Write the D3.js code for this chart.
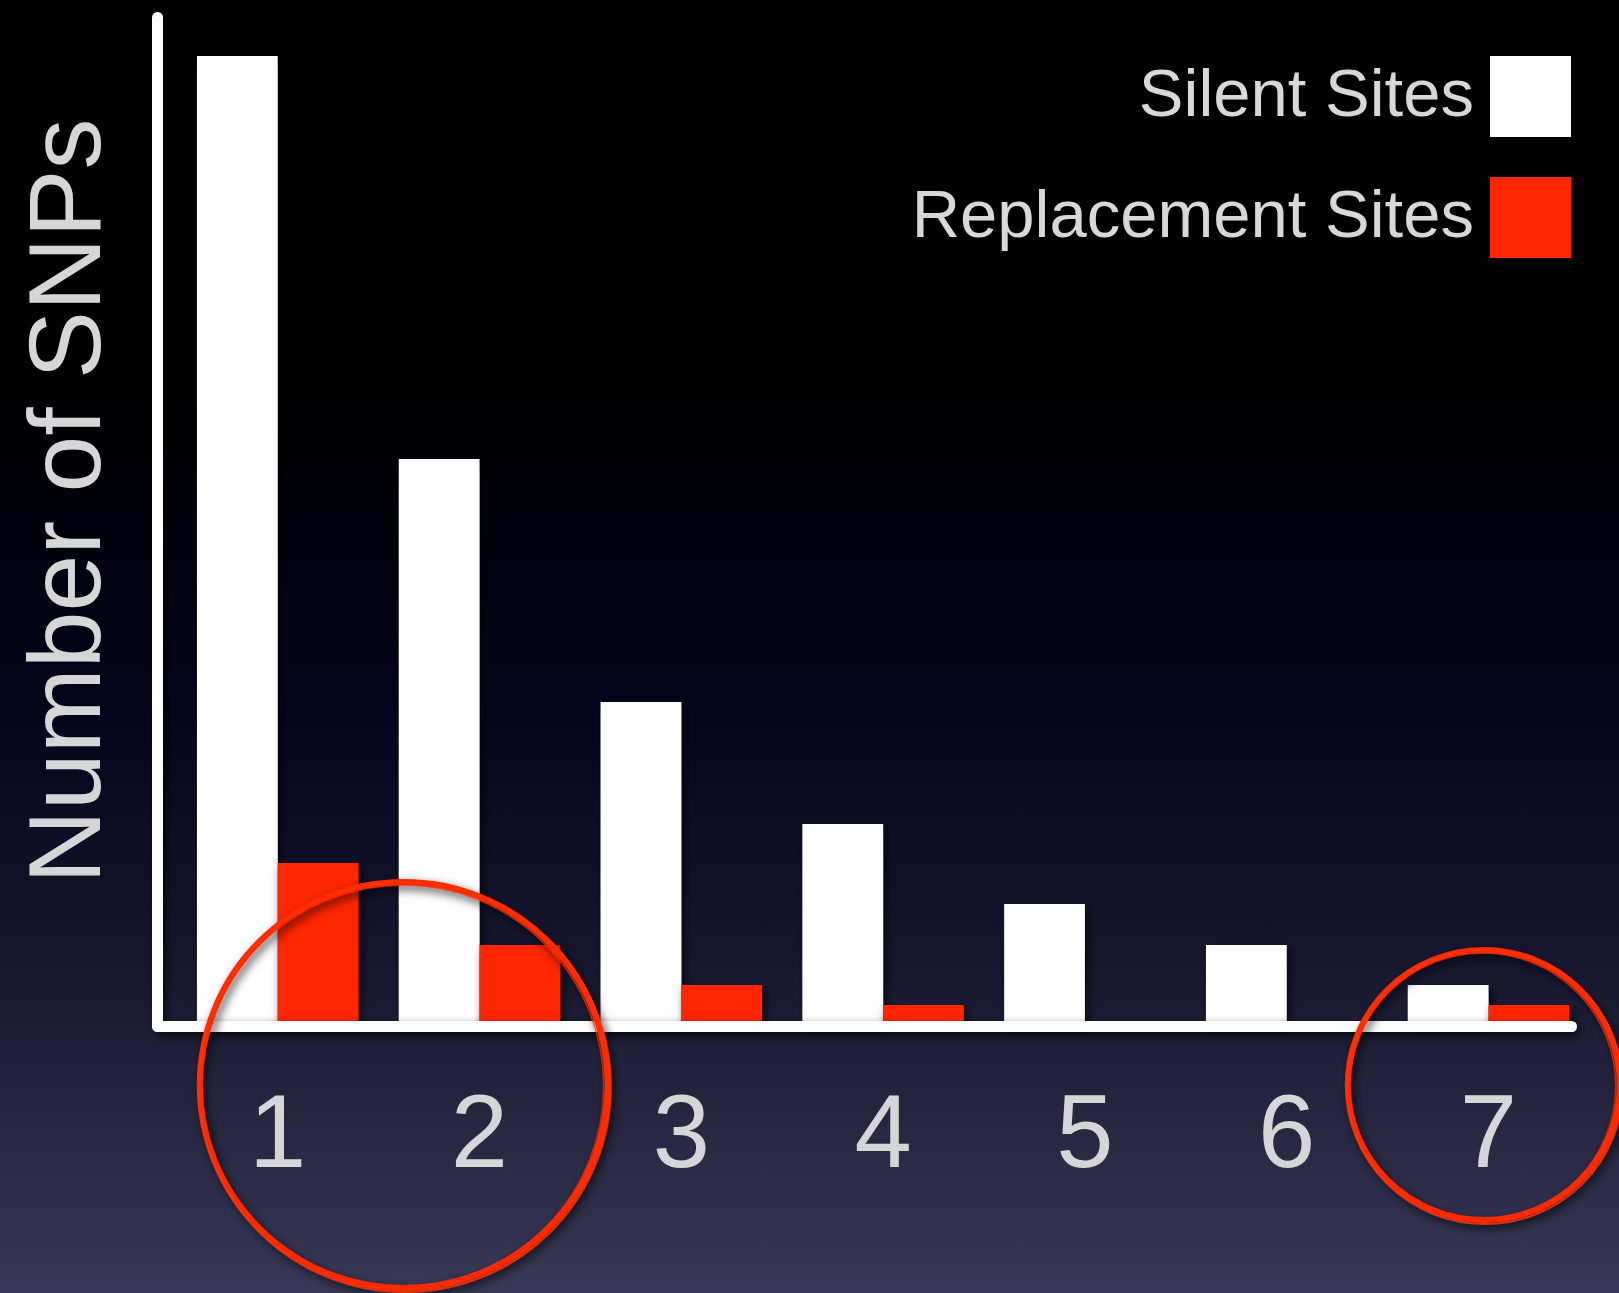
<!DOCTYPE html>
<html>
<head>
<meta charset="utf-8">
<script src="https://cdn.jsdelivr.net/npm/d3@7"></script>
<style>
  html, body { margin: 0; padding: 0; background: #000; }
  svg { display: block; }
  text { font-family: "Liberation Sans", Arial, Helvetica, sans-serif; }
</style>
</head>
<body>
<div id="chart"></div>
<script>
// data
var categories = ["1", "2", "3", "4", "5", "6", "7"];
var silent = [97, 56.7, 32.4, 20.2, 12.2, 8.1, 4.1];
var replacement = [16.3, 8.1, 4.1, 2.1, 0, 0, 2.1];
var seriesNames = ["Silent Sites", "Replacement Sites"];
var seriesColors = ["#ffffff", "#ff2600"];
var yLabel = "Number of SNPs";

drawChart();

function drawChart() {
var W = 1619, H = 1293;

var svg = d3.select("#chart").append("svg").attr("width", W).attr("height", H);
var defs = svg.append("defs");

// slide background
var grad = defs.append("linearGradient").attr("id", "bg")
    .attr("x1", 0).attr("y1", 0).attr("x2", 0).attr("y2", 1);
grad.append("stop").attr("offset", "0").attr("stop-color", "#000000");
grad.append("stop").attr("offset", "0.3").attr("stop-color", "#000000");
grad.append("stop").attr("offset", "0.55").attr("stop-color", "#04041c");
grad.append("stop").attr("offset", "0.75").attr("stop-color", "#17172f");
grad.append("stop").attr("offset", "1").attr("stop-color", "#383856");
svg.append("rect").attr("width", W).attr("height", H).attr("fill", "url(#bg)");

var shadow = defs.append("filter").attr("id", "shadow")
    .attr("x", "-20%").attr("y", "-20%").attr("width", "140%").attr("height", "140%");
shadow.append("feDropShadow").attr("dx", 3).attr("dy", 4).attr("stdDeviation", 5)
    .attr("flood-color", "#000").attr("flood-opacity", 0.7);

var x = d3.scaleBand()
    .domain(categories)
    .range([176.8, 1589.4])
    .paddingInner(0.2)
    .paddingOuter(0.1);

var xs = d3.scaleBand()
    .domain(seriesNames)
    .range([0, x.bandwidth()]);

var y = d3.scaleLinear()
    .domain([0, 100])
    .range([1026, 26]);

var color = d3.scaleOrdinal().domain(seriesNames).range(seriesColors);

var rows = categories.map(function(c, i) {
  return { cat: c, "Silent Sites": silent[i], "Replacement Sites": replacement[i] };
});

// bars
var g = svg.append("g");
g.selectAll("g")
  .data(rows)
  .enter().append("g")
    .attr("transform", function(d) { return "translate(" + x(d.cat) + ",0)"; })
  .selectAll("rect")
  .data(function(d) { return seriesNames.map(function(k) { return { key: k, value: d[k] }; }); })
  .enter().append("rect")
    .filter(function(d) { return d.value > 0; })
    .attr("x", function(d) { return xs(d.key); })
    .attr("y", function(d) { return y(d.value); })
    .attr("width", xs.bandwidth())
    .attr("height", function(d) { return y(0) - y(d.value); })
    .attr("fill", function(d) { return color(d.key); })
    .attr("filter", "url(#shadow)");

// L-shaped axis
var x0 = 157.5, xEnd = 1571.5, yTop = 17.5;
svg.append("path")
    .attr("d", "M" + x0 + "," + yTop + "V" + (y(0) + 0.5) + "H" + xEnd)
    .attr("fill", "none")
    .attr("stroke", "#ffffff")
    .attr("stroke-width", 11)
    .attr("stroke-linecap", "round")
    .attr("stroke-linejoin", "round")
    .attr("filter", "url(#shadow)");

// category labels
var ax = svg.append("g")
    .attr("transform", "translate(0," + y(0) + ")")
    .call(d3.axisBottom(x).tickSize(0));
ax.select(".domain").remove();
ax.selectAll("text")
    .attr("y", 141)
    .attr("dy", null)
    .attr("fill", "#d6d6d6")
    .style("font-size", "103px")
    .style("font-family", "'Liberation Sans', Arial, sans-serif");

// y label
svg.append("text")
    .attr("transform", "translate(100,501) rotate(-90)")
    .attr("text-anchor", "middle")
    .attr("fill", "#d6d6d6")
    .style("font-size", "102px")
    .text(yLabel);

// legend
var legend = svg.append("g").selectAll("g")
  .data(seriesNames)
  .enter().append("g")
    .attr("transform", function(d, i) { return "translate(1490," + (56 + i * 121) + ")"; });
legend.append("rect")
    .attr("width", 81).attr("height", 81)
    .attr("fill", function(d) { return color(d); });
legend.append("text")
    .attr("x", -16).attr("y", 60)
    .attr("text-anchor", "end")
    .attr("fill", "#d8d8d8")
    .style("font-size", "67px")
    .text(function(d) { return d; });

// hand-drawn red circles around 1-2 and 7
var rings = [{ cat: "2", dx: 5, r: 204 }, { cat: "7", dx: 76, r: 136 }];
var ringG = svg.append("g").selectAll("g")
  .data(rings)
  .enter().append("g")
    .attr("transform", function(d) { return "translate(" + (x(d.cat) + d.dx) + "," + (y(0) + 59) + ")"; })
    .attr("filter", "url(#shadow)");
ringG.append("ellipse")
    .attr("rx", function(d) { return d.r; })
    .attr("ry", function(d) { return d.r - 1; })
    .attr("fill", "none")
    .attr("stroke", "#ff2a00")
    .attr("stroke-width", 6);
ringG.append("ellipse")
    .attr("cx", 1).attr("cy", 2)
    .attr("rx", function(d) { return d.r + 2; })
    .attr("ry", function(d) { return d.r + 1; })
    .attr("fill", "none")
    .attr("stroke", "#ff3300")
    .attr("stroke-width", 2)
    .attr("stroke-opacity", 0.8);
ringG.append("ellipse")
    .attr("cx", -1).attr("cy", 1)
    .attr("rx", function(d) { return d.r - 3; })
    .attr("ry", function(d) { return d.r - 3; })
    .attr("fill", "none")
    .attr("stroke", "#ff2a00")
    .attr("stroke-width", 1.5)
    .attr("stroke-opacity", 0.7);
}
</script>
</body>
</html>
